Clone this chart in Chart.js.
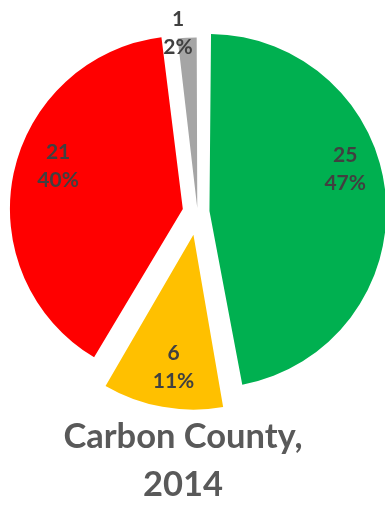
<!DOCTYPE html>
<html>
<head>
<meta charset="utf-8">
<script src="https://cdn.jsdelivr.net/npm/chart.js@4"></script>
<style>
    body { margin: 0; background: #fff; }
    #wrap { width: 385px; height: 508px; position: relative; }
</style>
</head>
<body>
<div id="wrap"><canvas id="pie"></canvas></div>
<script>
const categories = ['Green', 'Yellow', 'Red', 'Gray'];
const counts = [25, 6, 21, 1];
const colors = ['#00B050', '#FFC000', '#FF0000', '#A5A5A5'];
const titleLines = ['Carbon County,', '2014'];

// how far each slice is pulled out (chart.js divides this by 4)
const explode = [48, 92, 60, 16];
// where to put each label: fraction along the slice, fraction of radius
const labelSpot = [[0.43, 0.85], [0.46, 0.8], [0.55, 0.79], [0.07, 1.05]];

const total = counts.reduce((a, b) => a + b, 0);

const sliceLabels = {
    id: 'sliceLabels',
    afterDatasetsDraw(chart) {
        const ctx = chart.ctx;
        const meta = chart.getDatasetMeta(0);
        ctx.save();
        ctx.font = 'bold 21px Lato';
        ctx.fillStyle = '#404040';
        ctx.textAlign = 'center';
        ctx.textBaseline = 'middle';
        meta.data.forEach((arc, i) => {
            const {x, y, startAngle, endAngle, outerRadius} = arc.getProps(['x', 'y', 'startAngle', 'endAngle', 'outerRadius'], true);
            const off = (arc.options.offset || 0) / 4;
            const mid = (startAngle + endAngle) / 2;
            const cx = x + Math.cos(mid) * off;
            const cy = y + Math.sin(mid) * off;
            const a = startAngle + labelSpot[i][0] * (endAngle - startAngle);
            const r = outerRadius * labelSpot[i][1];
            const lx = cx + Math.cos(a) * r;
            const ly = cy + Math.sin(a) * r;
            const pct = Math.round(counts[i] / total * 100) + '%';
            ctx.fillText(String(counts[i]), lx, ly - 14);
            ctx.fillText(pct, lx, ly + 14);
        });
        ctx.restore();
    }
};

// the title sits a bit left of the pie centre, so draw it here
const bottomTitle = {
    id: 'bottomTitle',
    afterDraw(chart) {
        const ctx = chart.ctx;
        ctx.save();
        ctx.font = 'bold 34.5px Lato';
        ctx.fillStyle = '#595959';
        ctx.textAlign = 'center';
        ctx.textBaseline = 'middle';
        titleLines.forEach((line, i) => {
            ctx.fillText(line, 183, chart.chartArea.bottom + 25 + i * 48);
        });
        ctx.restore();
    }
};

new Chart(document.getElementById('pie'), {
    type: 'pie',
    data: {
        labels: categories,
        datasets: [{
            data: counts,
            backgroundColor: colors,
            borderWidth: 0,
            offset: explode
        }]
    },
    options: {
        responsive: true,
        maintainAspectRatio: false,
        animation: false,
        radius: 167,
        layout: {
            padding: { top: 12, left: 10, right: 0, bottom: 96 }
        },
        plugins: {
            legend: { display: false },
            tooltip: { enabled: false },
            title: { display: false }
        }
    },
    plugins: [sliceLabels, bottomTitle]
});
</script>
</body>
</html>
